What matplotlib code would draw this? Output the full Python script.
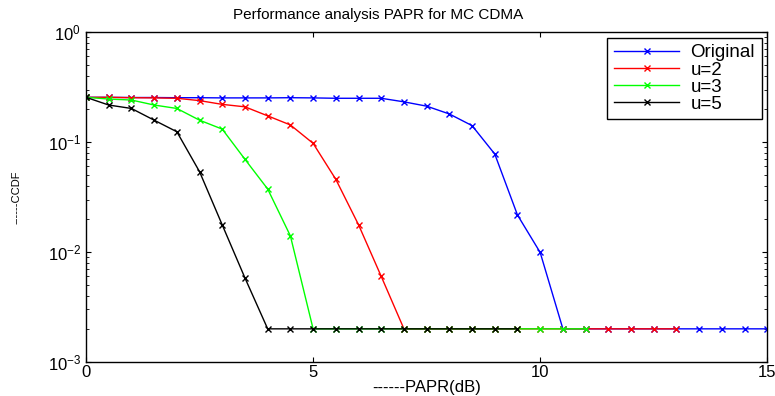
import matplotlib
matplotlib.use('Agg')
import matplotlib.pyplot as plt
import numpy as np

# PAPR (dB) e CCDF
x_orig = np.arange(0, 15.5, 0.5)
ccdf_orig = [0.255, 0.255, 0.254, 0.254, 0.253, 0.253, 0.252, 0.252, 0.252,
             0.253, 0.252, 0.250, 0.250, 0.250, 0.232, 0.212, 0.180, 0.141,
             0.0778, 0.0217, 0.0099, 0.002, 0.002, 0.002, 0.002, 0.002,
             0.002, 0.002, 0.002, 0.002, 0.002]

x_u2 = np.arange(0, 13.5, 0.5)
ccdf_u2 = [0.255, 0.255, 0.253, 0.252, 0.250, 0.238, 0.220, 0.209, 0.173,
           0.143, 0.0973, 0.0458, 0.0177, 0.0060, 0.002, 0.002, 0.002, 0.002,
           0.002, 0.002, 0.002, 0.002, 0.002, 0.002, 0.002, 0.002, 0.002]

x_u3 = np.arange(0, 11.5, 0.5)
ccdf_u3 = [0.255, 0.246, 0.241, 0.217, 0.202, 0.158, 0.131, 0.0696, 0.0374,
           0.014, 0.002, 0.002, 0.002, 0.002, 0.002, 0.002, 0.002, 0.002,
           0.002, 0.002, 0.002, 0.002, 0.002]

x_u5 = np.arange(0, 10.0, 0.5)
ccdf_u5 = [0.255, 0.217, 0.202, 0.158, 0.124, 0.0537, 0.0176, 0.0058, 0.002,
           0.002, 0.002, 0.002, 0.002, 0.002, 0.002, 0.002, 0.002, 0.002,
           0.002, 0.002]

plt.rcParams['font.family'] = ['Liberation Sans', 'DejaVu Sans']

fig = plt.figure(figsize=(7.75, 3.96), dpi=100)
ax = fig.add_axes([0.111, 0.086, 0.879, 0.833])

estilo = dict(marker='x', markersize=4, linewidth=1)
ax.semilogy(x_orig, ccdf_orig, color='#0000ff', label='Original', **estilo)
ax.semilogy(x_u2, ccdf_u2, color='#ff0000', label='u=2', **estilo)
ax.semilogy(x_u3, ccdf_u3, color='#00ff00', label='u=3', **estilo)
ax.semilogy(x_u5, ccdf_u5, color='black', label='u=5', **estilo)

ax.set_xlim(0, 15)
ax.set_ylim(1e-3, 1)
ax.set_xticks([0, 5, 10, 15])
ax.tick_params(which='both', direction='in', top=True, right=True, labelsize=12)
ax.tick_params(axis='x', which='minor', bottom=False, top=False)
ax.tick_params(axis='x', pad=2)
for s in ax.spines.values():
    s.set_linewidth(1)

# titulo levemente deslocado para a esquerda, como no original
ax.text(0.429, 1.03, 'Performance analysis PAPR for MC CDMA', transform=ax.transAxes,
        ha='center', va='bottom', fontsize=11)
ax.set_xlabel('------PAPR(dB)', fontsize=12, labelpad=0)
ax.set_ylabel('------CCDF', fontsize=8)
ax.yaxis.set_label_coords(-0.094, 0.5)

leg = ax.legend(loc='upper right', fontsize=13.5, handlelength=3.5, fancybox=False,
                edgecolor='black', framealpha=1, borderaxespad=0.3,
                labelspacing=0.0, handletextpad=0.6, borderpad=0.35)
leg.get_frame().set_linewidth(1)

fig.savefig('out.png', dpi=100)
